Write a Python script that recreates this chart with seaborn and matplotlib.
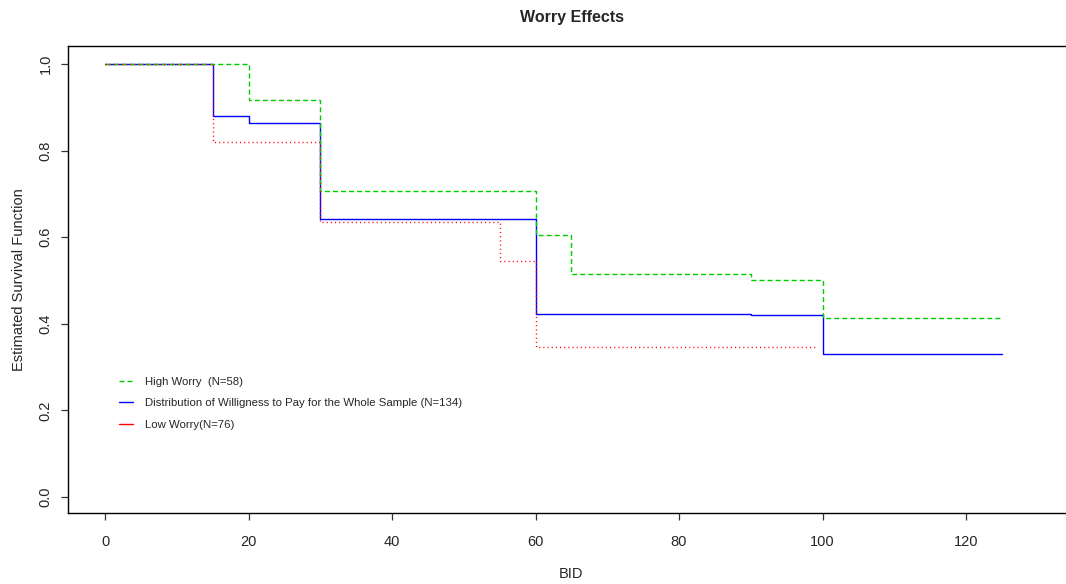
import numpy as np
import pandas as pd
import matplotlib
matplotlib.use("Agg")
import matplotlib.pyplot as plt
from matplotlib.lines import Line2D
import seaborn as sns

# survival step data
high_bid = [0, 20, 30, 60, 65, 90, 100, 125]
high_surv = [1.0, 0.917, 0.706, 0.606, 0.516, 0.500, 0.413, 0.413]

whole_bid = [0, 15, 20, 30, 60, 90, 100, 125]
whole_surv = [1.0, 0.881, 0.863, 0.643, 0.423, 0.420, 0.330, 0.330]

low_bid = [0, 15, 30, 55, 60, 99]
low_surv = [1.0, 0.820, 0.636, 0.546, 0.346, 0.346]

labels = ["High Worry  (N=58)",
          "Distribution of Willigness to Pay for the Whole Sample (N=134)",
          "Low Worry(N=76)"]

sns.set_style("ticks")
plt.rcParams["font.family"] = ["Liberation Sans", "DejaVu Sans"]

fig = plt.figure(figsize=(10.66, 5.84), dpi=100)
ax = fig.add_axes([68 / 1066, 71 / 584, (1075 - 68) / 1066, 467 / 584])

green = "#00CD00"
blue = "#0000FF"
red = "#FF0000"

df_w = pd.DataFrame({"BID": whole_bid, "S": whole_surv})
df_h = pd.DataFrame({"BID": high_bid, "S": high_surv})
df_l = pd.DataFrame({"BID": low_bid, "S": low_surv})

sns.lineplot(data=df_w, x="BID", y="S", ax=ax, color=blue, lw=1.0,
             drawstyle="steps-post", estimator=None, sort=False)
sns.lineplot(data=df_h, x="BID", y="S", ax=ax, color=green, lw=1.0,
             drawstyle="steps-post", estimator=None, sort=False,
             dashes=False, linestyle=(0, (3.6, 2.2)))
sns.lineplot(data=df_l, x="BID", y="S", ax=ax, color=red, lw=1.0,
             drawstyle="steps-post", estimator=None, sort=False,
             linestyle=(0, (0.8, 2.2)))

ax.set_xlim(-5.16, (1075 - 105) / 7.175)
ax.set_ylim(-0.037, 1.0416)
ax.set_xticks([0, 20, 40, 60, 80, 100, 120])
ax.set_yticks([0.0, 0.2, 0.4, 0.6, 0.8, 1.0])
ax.set_yticklabels(["0.0", "0.2", "0.4", "0.6", "0.8", "1.0"],
                   rotation=90, va="center")
ax.tick_params(direction="out", length=5, width=0.9, labelsize=10.5,
               color="#333333")
ax.tick_params(axis="x", pad=11)
ax.tick_params(axis="y", pad=6)
for s in ["left", "bottom", "top"]:
    ax.spines[s].set_linewidth(1.0)
    ax.spines[s].set_color("black")
ax.spines["right"].set_visible(False)

ax.set_xlabel("BID", fontsize=10.5, labelpad=13)
ax.set_ylabel("Estimated Survival Function", fontsize=10.5, labelpad=9)
ax.set_title("Worry Effects", fontsize=11.5, fontweight="bold", pad=17.5)

handles = [Line2D([], [], color=green, lw=1.0, linestyle=(0, (3.6, 2.2))),
           Line2D([], [], color=blue, lw=1.0),
           Line2D([], [], color=red, lw=1.0)]
ax.legend(handles, labels, loc="upper left", bbox_to_anchor=(0.04, 0.313),
          frameon=False, fontsize=8.2, handlelength=1.3, handletextpad=1.0,
          labelspacing=1.0)

fig.savefig("out.png", dpi=100)
